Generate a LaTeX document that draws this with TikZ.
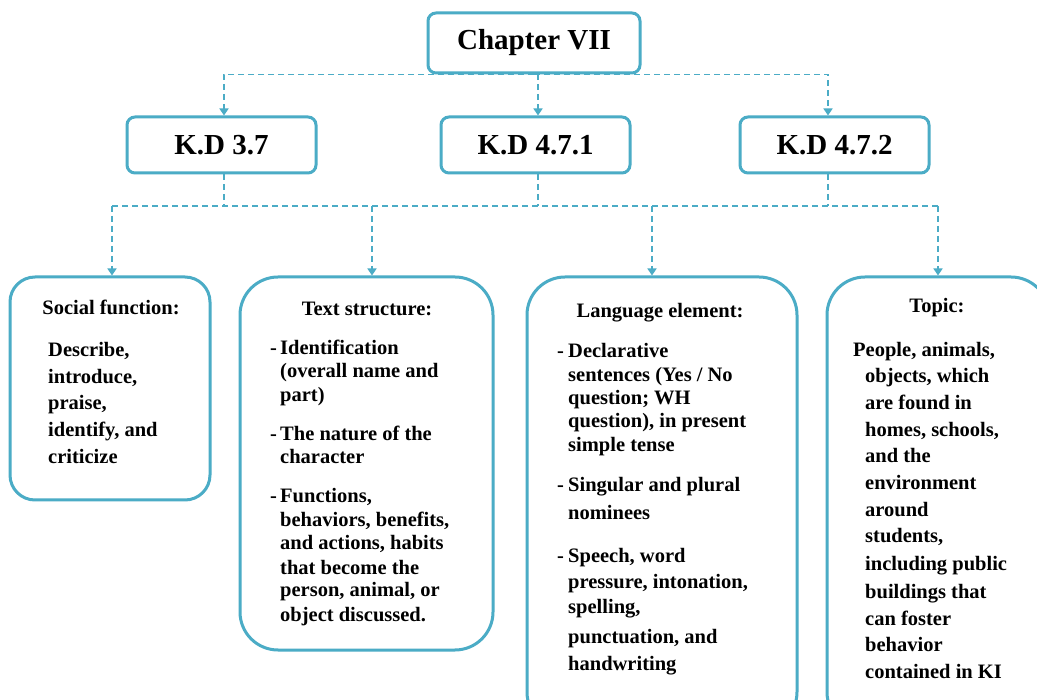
\documentclass[tikz,border=0pt]{standalone}
\usepackage{fontspec}
\setmainfont{Liberation Serif}
\usetikzlibrary{arrows.meta}
\definecolor{aqua}{RGB}{75,172,198}
\begin{document}
\begin{tikzpicture}[x=1pt,y=-1pt,
  box/.style={draw=aqua, line width=3pt, fill=white, rounded corners=8pt, inner sep=0pt,
    font=\fontsize{29}{34}\selectfont\bfseries},
  card/.style={draw=aqua, line width=3pt, inner sep=0pt},
  dl/.style={draw=aqua, line width=1.5pt, dash pattern=on 6pt off 4pt},
  arr/.style={dl, -{Triangle[length=7pt,width=9pt]}},
  ln/.style={font=\fontsize{20.5}{24}\selectfont\bfseries, inner sep=0pt, anchor=base west},
  hd/.style={font=\fontsize{20.5}{24}\selectfont\bfseries, inner sep=0pt, anchor=base}]
\useasboundingbox (0,0) rectangle (1037,700);
\clip (0,0) rectangle (1037,700);
\fill[white] (0,0) rectangle (1037,700);

% top level
\node[box, minimum width=212pt, minimum height=60pt] (ch) at (534,43) {Chapter VII};
\node[box, minimum width=189pt, minimum height=56pt] (kd1) at (221.5,145) {K.D 3.7};
\node[box, minimum width=189pt, minimum height=56pt] (kd2) at (535.5,145) {K.D 4.7.1};
\node[box, minimum width=189pt, minimum height=56pt] (kd3) at (834.5,145) {K.D 4.7.2};

% bottom cards
\node[card, rounded corners=25pt, minimum width=200pt, minimum height=223pt] (b1) at (110,388.5) {};
\node[card, rounded corners=38pt, minimum width=253pt, minimum height=373pt] (b2) at (366.5,463.5) {};
\node[card, rounded corners=38pt, minimum width=270pt, minimum height=453pt] (b3) at (662,503.5) {};
\node[card, rounded corners=38pt, minimum width=222pt, minimum height=453pt] (b4) at (938,503.5) {};

% connectors level 1
\draw[arr] (ch.south) -| ([xshift=2.5pt]kd1.north);
\draw[arr] ([xshift=2.5pt]kd2.north |- ch.south) -- ([xshift=2.5pt]kd2.north);
\draw[arr] (ch.south) -| ([xshift=-6.5pt]kd3.north);

% connectors level 2
\coordinate (busL) at (112,206);
\coordinate (busR) at (938,206);
\draw[dl] (busL) -- (busR);
\draw[dl] ([xshift=2.5pt]kd1.south) -- ([xshift=2.5pt]kd1.south |- busL);
\draw[dl] ([xshift=2.5pt]kd2.south) -- ([xshift=2.5pt]kd2.south |- busL);
\draw[dl] ([xshift=-6.5pt]kd3.south) -- ([xshift=-6.5pt]kd3.south |- busL);
\draw[arr] ([xshift=2pt]b1.north |- busL) -- ([xshift=2pt]b1.north);
\draw[arr] ([xshift=5.5pt]b2.north |- busL) -- ([xshift=5.5pt]b2.north);
\draw[arr] ([xshift=-10pt]b3.north |- busL) -- ([xshift=-10pt]b3.north);
\draw[arr] (b4.north |- busL) -- (b4.north);

% box 1 text
\node[hd] (h1) at (111,315) {Social function:};
\node[ln] (s1) at (48,357) {Describe,};
\node[ln] (s2) at (48,384) {introduce,};
\node[ln] (s3) at (48,410) {praise,};
\node[ln] (s4) at (48,437) {identify, and};
\node[ln] (s5) at (48,464) {criticize};

% box 2 text
\node[hd] (h2) at (367,316) {Text structure:};
\node[ln] (d21) at (270,355) {-};
\node[ln] (d22) at (270,441) {-};
\node[ln] (d23) at (270,503) {-};
\node[ln] (t1) at (280,355) {Identification};
\node[ln] (t2) at (280,378) {(overall name and};
\node[ln] (t3) at (280,402) {part)};
\node[ln] (t4) at (280,441) {The nature of the};
\node[ln] (t5) at (280,464) {character};
\node[ln] (t6) at (280,503) {Functions,};
\node[ln] (t7) at (280,527) {behaviors, benefits,};
\node[ln] (t8) at (280,550) {and actions, habits};
\node[ln] (t9) at (280,574) {that become the};
\node[ln] (t10) at (280,597) {person, animal, or};
\node[ln] (t11) at (280,621) {object discussed.};

% box 3 text
\node[hd] (h3) at (660,318) {Language element:};
\node[ln] (d31) at (557,358) {-};
\node[ln] (d32) at (557,492) {-};
\node[ln] (d33) at (557,562) {-};
\node[ln] (l1) at (568,358) {Declarative};
\node[ln] (l2) at (568,382) {sentences (Yes / No};
\node[ln] (l3) at (568,405) {question; WH};
\node[ln] (l4) at (568,428) {question), in present};
\node[ln] (l5) at (568,452) {simple tense};
\node[ln] (l6) at (568,492) {Singular and plural};
\node[ln] (l7) at (568,520) {nominees};
\node[ln] (l8) at (568,562) {Speech, word};
\node[ln] (l9) at (568,588) {pressure, intonation,};
\node[ln] (l10) at (568,613) {spelling,};
\node[ln] (l11) at (568,643) {punctuation, and};
\node[ln] (l12) at (568,670) {handwriting};

% box 4 text
\node[hd] (h4) at (937,313) {Topic:};
\node[ln] (p1) at (853,357) {People, animals,};
\node[ln] (p2) at (865,383) {objects, which};
\node[ln] (p3) at (865,410) {are found in};
\node[ln] (p4) at (865,437) {homes, schools,};
\node[ln] (p5) at (865,463) {and the};
\node[ln] (p6) at (865,490) {environment};
\node[ln] (p7) at (865,517) {around};
\node[ln] (p8) at (865,543) {students,};
\node[ln] (p9) at (865,571) {including public};
\node[ln] (p10) at (865,598) {buildings that};
\node[ln] (p11) at (865,625) {can foster};
\node[ln] (p12) at (865,651) {behavior};
\node[ln] (p13) at (865,678) {contained in KI};
\end{tikzpicture}
\end{document}
